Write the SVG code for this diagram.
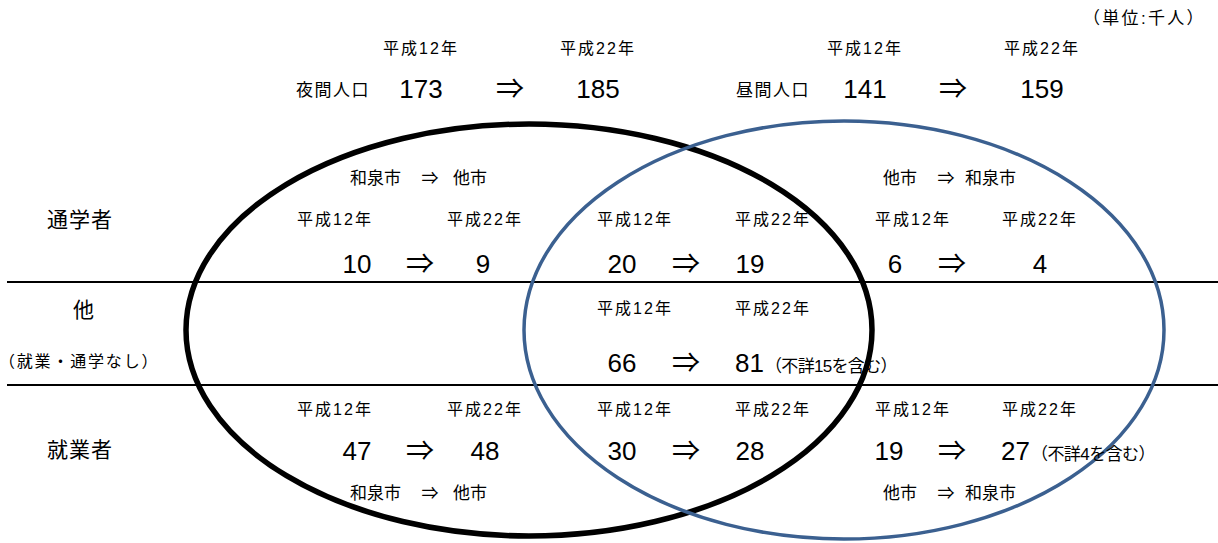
<svg xmlns="http://www.w3.org/2000/svg" width="1218" height="543" viewBox="0 0 1218 543">
<style>
text{font-family:"Liberation Sans","Noto Sans CJK JP",sans-serif;fill:#000}
.h{font-size:16px;letter-spacing:2px;text-anchor:middle}
.v{font-size:26px;text-anchor:middle}
.a{font-size:28px;text-anchor:middle;font-family:"Noto Sans CJK JP",sans-serif}
.c{font-size:17px}
.l{font-size:21px;letter-spacing:1px}
.n{font-size:16px;letter-spacing:1.5px}
</style>
<rect width="1218" height="543" fill="#fff"/>
<g id="connectors">
<line x1="7" y1="282" x2="1218" y2="282" stroke="#000" stroke-width="2"/>
<line x1="7" y1="385" x2="1218" y2="385" stroke="#000" stroke-width="2"/>
<ellipse id="night" cx="529" cy="330" rx="343" ry="206" fill="none" stroke="#000" stroke-width="5.5"/>
<ellipse id="day" cx="844" cy="330" rx="320" ry="209" fill="none" stroke="#3b6090" stroke-width="3.5"/>
</g>
<g id="unit"><text x="1083" y="24" class="n" style="font-size:17px" textLength="122" lengthAdjust="spacing">（単位:千人）</text></g>
<g id="night-pop">
<text x="421" y="54" class="h">平成12年</text>
<text x="598" y="54" class="h">平成22年</text>
<text x="296" y="96" class="c" style="letter-spacing:1.5px">夜間人口</text>
<text x="421" y="98" class="v">173</text>
<text x="510" y="99" class="a">⇒</text>
<text x="598" y="98" class="v">185</text>
</g>
<g id="day-pop">
<text x="865" y="54" class="h">平成12年</text>
<text x="1042" y="54" class="h">平成22年</text>
<text x="736" y="96" class="c" style="letter-spacing:1.5px">昼間人口</text>
<text x="865" y="98" class="v">141</text>
<text x="953" y="99" class="a">⇒</text>
<text x="1042" y="98" class="v">159</text>
</g>
<g id="row-labels">
<text x="47" y="227" class="l">通学者</text>
<text x="73" y="317" class="l">他</text>
<text x="-1" y="367" class="n" textLength="160" lengthAdjust="spacing">（就業・通学なし）</text>
<text x="47" y="457" class="l">就業者</text>
</g>
<g id="school-out">
<text x="350" y="184" class="c"><tspan>和泉市</tspan><tspan x="430" text-anchor="middle">⇒</tspan><tspan x="453">他市</tspan></text>
<text x="335" y="225" class="h">平成12年</text>
<text x="485" y="225" class="h">平成22年</text>
<text x="357" y="273" class="v">10</text>
<text x="420" y="274" class="a">⇒</text>
<text x="483" y="273" class="v">9</text>
</g>
<g id="school-both">
<text x="635" y="225" class="h">平成12年</text>
<text x="773" y="225" class="h">平成22年</text>
<text x="622" y="273" class="v">20</text>
<text x="686" y="274" class="a">⇒</text>
<text x="750" y="273" class="v">19</text>
</g>
<g id="school-in">
<text x="883" y="184" class="c"><tspan>他市</tspan><tspan x="946" text-anchor="middle">⇒</tspan><tspan x="965">和泉市</tspan></text>
<text x="913" y="225" class="h">平成12年</text>
<text x="1040" y="225" class="h">平成22年</text>
<text x="895" y="273" class="v">6</text>
<text x="952" y="274" class="a">⇒</text>
<text x="1040" y="273" class="v">4</text>
</g>
<g id="other">
<text x="635" y="314" class="h">平成12年</text>
<text x="773" y="314" class="h">平成22年</text>
<text x="622" y="372" class="v">66</text>
<text x="686" y="373" class="a">⇒</text>
<text x="735" y="372" style="font-size:26px">81</text>
<text x="765" y="372" class="n" style="font-size:17px" textLength="134" lengthAdjust="spacing">（不詳15を含む）</text>
</g>
<g id="work-out">
<text x="335" y="415" class="h">平成12年</text>
<text x="485" y="415" class="h">平成22年</text>
<text x="357" y="460" class="v">47</text>
<text x="420" y="461" class="a">⇒</text>
<text x="485" y="460" class="v">48</text>
<text x="350" y="499" class="c"><tspan>和泉市</tspan><tspan x="430" text-anchor="middle">⇒</tspan><tspan x="453">他市</tspan></text>
</g>
<g id="work-both">
<text x="635" y="415" class="h">平成12年</text>
<text x="773" y="415" class="h">平成22年</text>
<text x="622" y="460" class="v">30</text>
<text x="686" y="461" class="a">⇒</text>
<text x="750" y="460" class="v">28</text>
</g>
<g id="work-in">
<text x="913" y="415" class="h">平成12年</text>
<text x="1040" y="415" class="h">平成22年</text>
<text x="889" y="460" class="v">19</text>
<text x="952" y="461" class="a">⇒</text>
<text x="1001" y="460" style="font-size:26px">27</text>
<text x="1031" y="460" class="n" style="font-size:17px" textLength="126" lengthAdjust="spacing">（不詳4を含む）</text>
<text x="883" y="499" class="c"><tspan>他市</tspan><tspan x="946" text-anchor="middle">⇒</tspan><tspan x="965">和泉市</tspan></text>
</g>
</svg>
